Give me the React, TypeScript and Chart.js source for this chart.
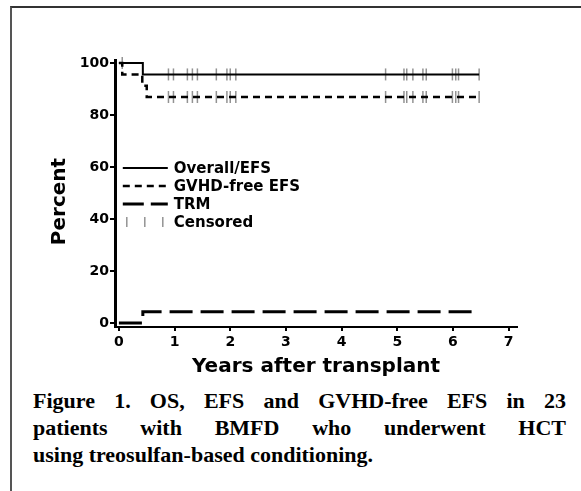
import React, { useEffect, useRef } from 'react';
import { Chart, registerables } from 'chart.js';

Chart.register(...registerables);

// ---- data ----
const xTicks = [0, 1, 2, 3, 4, 5, 6, 7];
const yTicks = [0, 20, 40, 60, 80, 100];

const osTimes = [0, 0.43, 6.47];
const osValues = [100, 95.65, 95.65];

const gvhdTimes = [0, 0.06, 0.42, 0.5, 6.47];
const gvhdValues = [100, 95.65, 91.3, 86.96, 86.96];

const trmTimes = [0, 0.43, 6.47];
const trmValues = [0, 4.35, 4.35];

const censorTimes = [0.06, 0.89, 0.98, 1.23, 1.32, 1.41, 1.75, 1.94, 2.0, 2.1, 4.79, 5.12, 5.17, 5.28, 5.46, 5.52, 5.99, 6.05, 6.1, 6.47];

const legendLabels = ['Overall/EFS', 'GVHD-free EFS', 'TRM', 'Censored'];

const xTitle = 'Years after transplant';
const yTitle = 'Percent';

const captionLines = [
  'Figure 1. OS, EFS and GVHD-free EFS in 23',
  'patients with BMFD who underwent HCT',
  'using treosulfan-based conditioning.',
];

// ---- helpers ----
const toPoints = (ts: number[], vs: number[]) => ts.map((t, i) => ({ x: t, y: vs[i] }));
const stepAt = (ts: number[], vs: number[], t: number) => {
  let v = vs[0];
  for (let i = 0; i < ts.length; i++) if (ts[i] <= t) v = vs[i];
  return v;
};

const FONT = '"DejaVu Sans", sans-serif';
const CENSOR_COLOR = '#939393';

const overlayPlugin = {
  id: 'overlay',
  afterDraw(chart: any) {
    const { ctx, chartArea, scales } = chart;
    const x = scales.x;
    const y = scales.y;
    ctx.save();
    // y-axis title
    ctx.save();
    ctx.translate(60, (chartArea.top + chartArea.bottom) / 2 + 8);
    ctx.rotate(-Math.PI / 2);
    ctx.font = `bold 20px ${FONT}`;
    ctx.fillStyle = '#000';
    ctx.textAlign = 'center';
    ctx.textBaseline = 'middle';
    ctx.fillText(yTitle, 0, 0);
    ctx.restore();

    // legend
    const lx = x.getPixelForValue(0.07);
    const ly = y.getPixelForValue(60) + 1;
    const rowH = 18;
    const lineLen = 45;
    const styles = [
      { dash: [], w: 2 },
      { dash: [7, 5], w: 2.5 },
      { dash: [21, 7], w: 3 },
    ];
    ctx.strokeStyle = '#000';
    styles.forEach((s, i) => {
      const yy = ly + i * rowH;
      ctx.beginPath();
      ctx.setLineDash(s.dash);
      ctx.lineWidth = s.w;
      ctx.moveTo(lx, yy);
      ctx.lineTo(lx + lineLen, yy);
      ctx.stroke();
    });
    ctx.setLineDash([]);
    // censored sample ticks
    const cy = ly + 3 * rowH;
    ctx.strokeStyle = CENSOR_COLOR;
    ctx.lineWidth = 1.5;
    [4, 22, 40].forEach((dx) => {
      ctx.beginPath();
      ctx.moveTo(lx + dx, cy - 5);
      ctx.lineTo(lx + dx, cy + 5);
      ctx.stroke();
    });
    ctx.fillStyle = '#000';
    ctx.font = `bold 15px ${FONT}`;
    ctx.textAlign = 'left';
    ctx.textBaseline = 'middle';
    legendLabels.forEach((t, i) => {
      ctx.fillText(t, lx + lineLen + 6, ly + i * rowH + 1);
    });
    ctx.restore();
  },
};

export default function App() {
  const ref = useRef<HTMLCanvasElement | null>(null);

  useEffect(() => {
    if (!ref.current) return;
    const H = 385;
    const chart = new Chart(ref.current, {
      type: 'line',
      data: {
        datasets: [
          {
            label: 'Overall/EFS',
            data: toPoints(osTimes, osValues),
            stepped: true,
            borderColor: '#000',
            borderWidth: 2,
            pointRadius: 0,
            fill: false,
            order: 1,
          },
          {
            label: 'GVHD-free EFS',
            data: toPoints(gvhdTimes, gvhdValues),
            stepped: true,
            borderColor: '#000',
            borderWidth: 2.5,
            borderDash: [7, 5],
            pointRadius: 0,
            fill: false,
            order: 1,
          },
          {
            label: 'TRM',
            data: toPoints(trmTimes, trmValues),
            stepped: true,
            borderColor: '#000',
            borderWidth: 3,
            borderDash: [23, 8],
            pointRadius: 0,
            fill: false,
            order: 1,
          },
          {
            label: 'Censored OS',
            type: 'scatter',
            data: censorTimes.map((t) => ({ x: t, y: stepAt(osTimes, osValues, t) })),
            showLine: false,
            pointStyle: 'line',
            rotation: 90,
            pointRadius: 6,
            borderColor: CENSOR_COLOR,
            borderWidth: 1.5,
            clip: false,
            order: 2,
          },
          {
            label: 'Censored GVHD',
            type: 'scatter',
            data: censorTimes
              .filter((t) => t >= 0.5)
              .map((t) => ({ x: t, y: stepAt(gvhdTimes, gvhdValues, t) })),
            showLine: false,
            pointStyle: 'line',
            rotation: 90,
            pointRadius: 6,
            borderColor: CENSOR_COLOR,
            borderWidth: 1.5,
            clip: false,
            order: 2,
          },
        ] as any,
      },
      options: {
        animation: false,
        responsive: false,
        maintainAspectRatio: false,
        layout: { padding: { top: 60, right: 64, bottom: 0, left: 0 } },
        plugins: { legend: { display: false }, tooltip: { enabled: false } },
        scales: {
          x: {
            type: 'linear',
            min: -0.07,
            max: 7.15,
            afterBuildTicks: (s: any) => {
              s.ticks = xTicks.map((v) => ({ value: v }));
            },
            afterFit: (s: any) => {
              s.height = H - 327;
            },
            border: { display: true, color: '#000', width: 2 },
            grid: { display: true, drawOnChartArea: false, drawTicks: true, tickLength: 4, color: '#000', lineWidth: 2 },
            ticks: { color: '#000', font: { family: FONT, size: 14, weight: 'bold' }, padding: 3, maxRotation: 0 },
            title: { display: true, text: xTitle, color: '#000', font: { family: FONT, size: 20, weight: 'bold' }, padding: { top: 0, bottom: 6 } },
          },
          y: {
            type: 'linear',
            min: -1.5,
            max: 101.2,
            afterBuildTicks: (s: any) => {
              s.ticks = yTicks.map((v) => ({ value: v }));
            },
            afterFit: (s: any) => {
              s.width = 115;
            },
            border: { display: true, color: '#000', width: 3 },
            grid: { display: true, drawOnChartArea: false, drawTicks: true, tickLength: 5, color: '#000', lineWidth: 2 },
            ticks: { color: '#000', font: { family: FONT, size: 14, weight: 'bold' }, padding: 1 },
          },
        },
      } as any,
      plugins: [overlayPlugin],
    });
    return () => chart.destroy();
  }, []);

  return (
    <div style={{ position: 'absolute', left: 0, top: 0, width: 581, height: 491, overflow: 'hidden', background: '#fff' }}>
      <div
        style={{
          position: 'absolute',
          left: 10,
          top: 6,
          width: 620,
          height: 520,
          borderLeft: '2px solid #555',
          borderTop: '2px solid #333',
        }}
      />
      <canvas ref={ref} width={581} height={385} style={{ position: 'absolute', left: 0, top: 0, width: 581, height: 385 }} />
      <div
        style={{
          position: 'absolute',
          left: 33,
          top: 387,
          width: 533,
          fontFamily: '"Liberation Serif", "Times New Roman", serif',
          fontWeight: 'bold',
          fontSize: 22,
          lineHeight: '27px',
          color: '#000',
        }}
      >
        {captionLines.map((l, i) => (
          <div
            key={i}
            style={{
              textAlign: i < captionLines.length - 1 ? 'justify' : 'left',
              textAlignLast: i < captionLines.length - 1 ? 'justify' : 'left',
              whiteSpace: 'nowrap',
            }}
          >
            {l}
          </div>
        ))}
      </div>
    </div>
  );
}
